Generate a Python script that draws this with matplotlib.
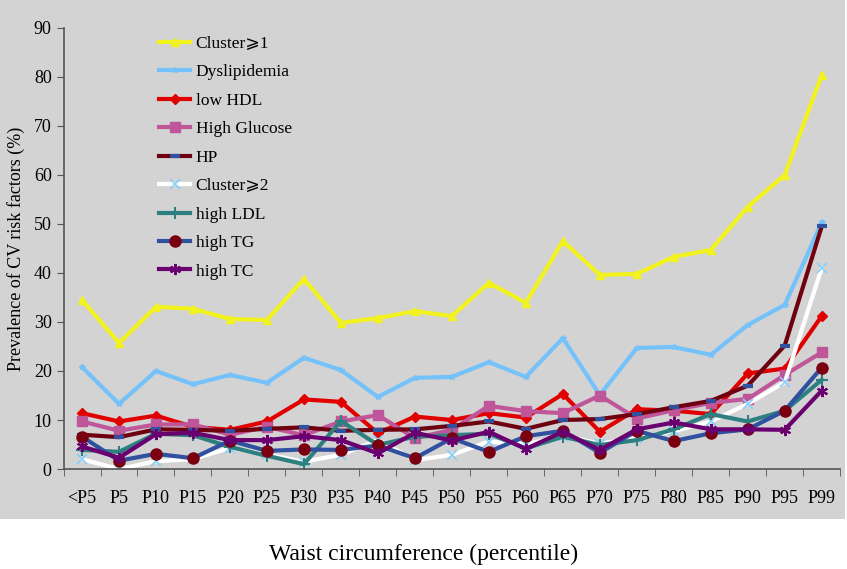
import matplotlib
matplotlib.use("Agg")
import matplotlib.pyplot as plt
from matplotlib.patches import Rectangle

plt.rcParams['font.family'] = ['Liberation Serif', 'DejaVu Serif', 'DejaVu Sans']

# percentile categories
categories = ["<P5", "P5", "P10", "P15", "P20", "P25", "P30", "P35", "P40", "P45", "P50",
              "P55", "P60", "P65", "P70", "P75", "P80", "P85", "P90", "P95", "P99"]

cluster1 = [34.5, 25.7, 33.1, 32.7, 30.6, 30.4, 38.8, 29.8, 30.8, 32.2, 31.2,
            38.0, 33.9, 46.5, 39.6, 39.8, 43.3, 44.7, 53.5, 60.0, 80.4]
dyslipidemia = [20.8, 13.3, 20.0, 17.3, 19.2, 17.6, 22.7, 20.2, 14.7, 18.6, 18.8,
                21.8, 18.8, 26.7, 15.1, 24.7, 24.9, 23.3, 29.4, 33.5, 50.3]
low_hdl = [11.4, 9.7, 10.9, 8.6, 8.0, 9.7, 14.2, 13.7, 7.3, 10.7, 10.0,
           11.4, 10.5, 15.3, 7.6, 12.2, 11.9, 11.2, 19.5, 20.5, 31.2]
high_glucose = [9.7, 7.8, 9.1, 9.1, 7.0, 8.6, 6.9, 9.7, 11.0, 6.3, 8.0,
                12.9, 11.8, 11.4, 15.0, 10.3, 12.0, 13.5, 14.3, 19.2, 23.8]
hp = [7.0, 6.5, 8.1, 8.0, 7.8, 8.2, 8.5, 7.8, 8.0, 8.1, 8.8,
      9.7, 8.2, 10.0, 10.2, 11.2, 12.6, 13.9, 17.0, 25.2, 49.5]
cluster2 = [2.0, 0.0, 1.6, 2.0, 4.3, 3.0, 1.5, 2.9, 5.9, 1.8, 2.9,
            5.6, 5.0, 6.8, 5.2, 6.3, 7.7, 9.7, 13.3, 17.7, 41.0]
high_ldl = [3.9, 3.5, 7.2, 6.9, 4.5, 2.7, 1.0, 9.8, 4.9, 6.6, 6.9,
            7.2, 4.2, 6.6, 4.9, 5.9, 8.1, 11.2, 9.7, 11.9, 18.2]
high_tg = [6.6, 1.7, 3.1, 2.2, 5.8, 3.7, 4.0, 3.9, 4.8, 2.2, 6.3,
           3.5, 6.7, 7.8, 3.3, 7.8, 5.7, 7.3, 8.1, 11.9, 20.7]
high_tc = [4.6, 2.3, 7.1, 7.4, 5.9, 5.9, 6.7, 5.9, 3.2, 7.4, 5.8,
           7.6, 4.1, 7.6, 3.9, 8.1, 9.5, 8.1, 8.1, 8.0, 16.0]

fig = plt.figure(figsize=(8.47, 5.69), dpi=100)
# grey panel behind the chart
fig.patches.append(Rectangle((0, 0.088), 0.998, 0.912, transform=fig.transFigure,
                             facecolor="#d3d3d3", edgecolor="none", zorder=-10))
ax = fig.add_axes([0.075, 0.1757, 0.917, 0.7753])
ax.set_facecolor("none")

x = list(range(len(categories)))
lw = 3
ax.plot(x, cluster1, color="#f2f21e", lw=lw, marker="^", ms=6, label="Cluster⩾1")
ax.plot(x, dyslipidemia, color="#75c2fa", lw=lw, marker="*", ms=4, label="Dyslipidemia")
ax.plot(x, low_hdl, color="#e00000", lw=lw, marker="D", ms=5, label="low HDL")
ax.plot(x, high_glucose, color="#c0569a", lw=lw, marker="s", ms=7, label="High Glucose")
ax.plot(x, hp, color="#6e0010", lw=lw, marker="_", ms=7, mew=3, mec="#3050a0", label="HP")
ax.plot(x, cluster2, color="white", lw=lw, marker="x", ms=7, mew=1.2, mec="#87cefa", label="Cluster⩾2")
ax.plot(x, high_ldl, color="#2e8080", lw=lw, marker="+", ms=8, mew=1.5, label="high LDL")
ax.plot(x, high_tg, color="#3050a0", lw=lw, marker="o", ms=8, mfc="#7a0010", mec="#7a0010", label="high TG")
ax.plot(x, high_tc, color="#6a0070", lw=lw, marker=(6, 2, 0), ms=8, mew=1.5, label="high TC")

ax.set_xlim(-0.5, len(categories) - 0.5)
ax.set_ylim(0, 90)
ax.set_yticks(range(0, 91, 10))
ax.set_xticks(x)
ax.set_xticklabels(categories)
ax.set_xticks([i - 0.5 for i in range(len(categories) + 1)], minor=True)
ax.tick_params(axis="x", which="major", length=0, labelsize=13, pad=15)
ax.tick_params(axis="x", which="minor", length=5, color="#555555", direction="out")
ax.tick_params(axis="y", length=5, color="#555555", labelsize=13, direction="out")
for side in ["top", "right"]:
    ax.spines[side].set_visible(False)
for side in ["left", "bottom"]:
    ax.spines[side].set_color("#555555")
    ax.spines[side].set_linewidth(1.2)

ax.set_ylabel("Prevalence of CV risk factors (%)", fontsize=13, labelpad=6)
fig.text(0.5, 0.015, "Waist circumference (percentile)", ha="center", fontsize=17)

ax.legend(loc="upper left", bbox_to_anchor=(0.103, 1.018), frameon=False, fontsize=12.5,
          handlelength=1.8, labelspacing=0.71, handletextpad=0.3)

fig.savefig("out.png", dpi=100)
